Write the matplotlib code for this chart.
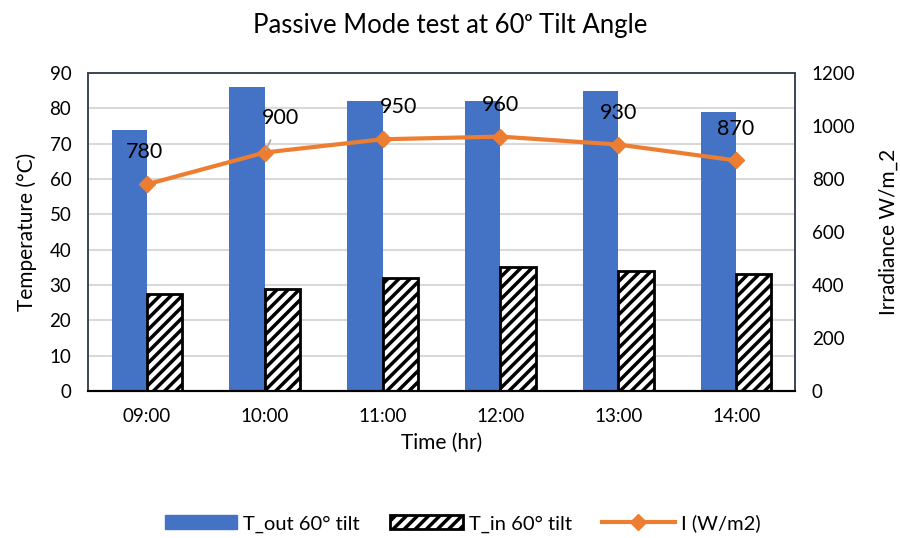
import numpy as np
import matplotlib
matplotlib.use('Agg')
import matplotlib.pyplot as plt
from matplotlib.lines import Line2D
from matplotlib.patches import Patch

plt.rcParams['font.family'] = ['Lato', 'DejaVu Sans']
plt.rcParams['hatch.linewidth'] = 2.5

# data
times = ['09:00', '10:00', '11:00', '12:00', '13:00', '14:00']
t_out = [74, 86, 82, 82, 85, 79]
t_in = [27.5, 29, 32, 35, 34, 33]
irradiance = [780, 900, 950, 960, 930, 870]

blue = '#4472C4'
orange = '#ED7D31'
frame = '#3b4656'

fig = plt.figure(figsize=(9, 5.38), dpi=100)
ax = fig.add_axes([0.0978, 0.2732, 0.7856, 0.5911])
x = np.arange(len(times))
w = 0.3

ax.bar(x - w / 2, t_out, w, color=blue, zorder=2)
ax.bar(x + w / 2, t_in, w, color='white', edgecolor='black', hatch='///',
       linewidth=2, zorder=2)

ax.set_xlim(-0.5, len(times) - 0.5)
ax.set_ylim(0, 90)
ax.set_yticks(np.arange(0, 91, 10))
ax.set_xticks(x)
ax.set_xticklabels(times)
ax.yaxis.grid(True, color='#d9d9d9', lw=1.5)
ax.set_axisbelow(True)
ax.tick_params(axis='both', length=0, labelsize=13.5, pad=12)
ax.set_xlabel('Time (hr)', fontsize=15, labelpad=6)
ax.set_ylabel('Temperature (°C)', fontsize=15, labelpad=9)

ax2 = ax.twinx()
ax2.plot(x, irradiance, color=orange, lw=3, marker='D', markersize=8, zorder=3)
ax2.set_ylim(0, 1200)
ax2.set_yticks(np.arange(0, 1201, 200))
ax2.tick_params(axis='y', length=0, labelsize=13.5, pad=12)
ax2.set_ylabel('Irradiance W/m_2', fontsize=15, rotation=90, labelpad=17)

for a in (ax, ax2):
    for s in ('left', 'right', 'top'):
        a.spines[s].set_color(frame)
        a.spines[s].set_linewidth(1.2)
    a.spines['bottom'].set_color('black')
    a.spines['bottom'].set_linewidth(1.5)

# data labels, placed the way the original tool left them
offsets = [(-1.5, 23), (11.5, 24.5), (11.5, 23), (0, 23), (0, 23), (-0.5, 22.5)]
for i, (v, off) in enumerate(zip(irradiance, offsets)):
    arrow = None
    if i == 1:
        arrow = dict(arrowstyle='-', color='#a6a6a6', lw=1.2, shrinkA=7, shrinkB=2)
    ax2.annotate(str(v), (x[i], v), xytext=off, textcoords='offset points',
                 ha='center', va='center', fontsize=15.5, arrowprops=arrow, zorder=4)

fig.suptitle('Passive Mode test at 60ᵒ Tilt Angle', fontsize=18.5, y=0.975)

handles = [Patch(facecolor=blue, edgecolor=blue),
           Patch(facecolor='white', edgecolor='black', hatch='///', linewidth=2),
           Line2D([], [], color=orange, lw=3, marker='D', markersize=8)]
labels = ['T_out 60° tilt', 'T_in 60° tilt', 'I (W/m2)']
fig.legend(handles, labels, loc='center', bbox_to_anchor=(0.514, 0.027), ncol=3,
           frameon=False, fontsize=14.5, handlelength=3.6, columnspacing=1.5,
           handletextpad=0.3)

fig.savefig('out.png', dpi=100)
